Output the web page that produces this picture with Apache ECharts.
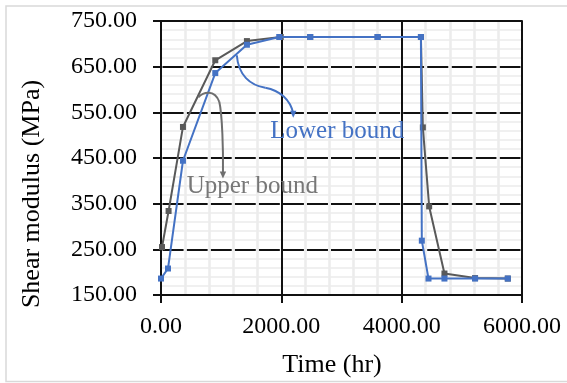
<!DOCTYPE html>
<html>
<head>
<meta charset="utf-8">
<script src="https://cdn.jsdelivr.net/npm/echarts@6/dist/echarts.min.js"></script>
<style>
  html, body { margin: 0; padding: 0; background: #ffffff; }
  #chart { width: 567px; height: 383px; }
</style>
</head>
<body>
<div id="chart"></div>
<script>
// Time (hr) and shear modulus (MPa) for the two bounding curves
const upperTime = [17, 126, 365, 902, 1428, 1990, 2480, 3600, 4320, 4352, 4457, 4711, 5220, 5764];
const upperModulus = [255, 334, 518, 664, 706, 715, 715, 715, 715, 517, 344, 197, 187, 186];
const lowerTime = [0, 116, 365, 902, 1428, 1965, 2480, 3600, 4320, 4335, 4446, 4711, 5220, 5764];
const lowerModulus = [186, 208, 444, 636, 698, 715, 715, 715, 715, 269, 186, 186, 186, 186];

const seriesNames = ['Upper bound', 'Lower bound'];
const axisTitles = { x: 'Time (hr)', y: 'Shear modulus (MPa)' };

// Callout curves in data units: start, then cubic segments (c1, c2, end)
const lowerCallout = [[1260, 675], [1285, 631], [1484, 609], [1733, 604], [1982, 598], [2148, 577], [2198, 548]];
const lowerCalloutTip = [2198, 538];
const lowerLabelAt = [2930, 509];
const upperCallout = [[620, 583], [703, 594], [886, 601], [969, 573], [1019, 544], [1035, 467], [1030, 419]];
const upperCalloutTip = [1030, 405];
const upperLabelAt = [1517, 388];

const BLUE = '#4472C4';
const GREY = '#595959';
const CALLOUT_GREY = '#6e6e6e';
const INK = '#111111';
const SERIF = '"Liberation Serif", "Times New Roman", serif';

const toPairs = (xs, ys) => xs.map((x, i) => [x, ys[i]]);

const chart = echarts.init(document.getElementById('chart'), null, { renderer: 'canvas' });

const pxPerMinor = 361 / 15; // width of one 400 hr minor cell

chart.setOption({
  animation: false,
  backgroundColor: '#ffffff',
  grid: { left: 161, right: 45, top: 21, bottom: 88 },
  xAxis: [{
    type: 'value',
    min: 0, max: 6000, interval: 2000,
    axisLine: { show: true, lineStyle: { color: INK, width: 2 } },
    axisTick: { show: true, length: 8, lineStyle: { color: INK, width: 2 } },
    axisLabel: { margin: 20, color: '#000', fontFamily: SERIF, fontSize: 24, formatter: v => v.toFixed(2) },
    splitLine: { show: true, lineStyle: { color: INK, width: 2 } },
    minorTick: { show: false, splitNumber: 5 },
    minorSplitLine: { show: true, lineStyle: { color: '#ececec', width: 2.5 } }
  }, {
    type: 'value', position: 'top',
    min: 0, max: 6000,
    axisLine: { show: true, onZero: false, lineStyle: { color: INK, width: 2 } },
    axisTick: { show: false }, axisLabel: { show: false }, splitLine: { show: false }
  }],
  yAxis: {
    type: 'value',
    min: 150, max: 750, interval: 100,
    axisLine: { show: true, lineStyle: { color: INK, width: 2 } },
    axisTick: { show: true, length: 8, lineStyle: { color: INK, width: 2 } },
    axisLabel: { margin: 24, color: '#000', fontFamily: SERIF, fontSize: 24, formatter: v => v.toFixed(2) },
    splitLine: {
      show: true, showMinLine: false, showMaxLine: false,
      lineStyle: { color: INK, width: 2, type: [pxPerMinor - 3, 3], dashOffset: pxPerMinor - 1.5 }
    },
    minorTick: { show: false, splitNumber: 5 },
    minorSplitLine: { show: true, lineStyle: { color: '#f0f0f0', width: 2 } }
  },
  series: [{
    name: seriesNames[0], type: 'line',
    data: toPairs(upperTime, upperModulus),
    symbol: 'rect', symbolSize: 6,
    itemStyle: { color: GREY },
    lineStyle: { color: GREY, width: 2 },
    z: 3
  }, {
    name: seriesNames[1], type: 'line',
    data: toPairs(lowerTime, lowerModulus),
    symbol: 'rect', symbolSize: 6,
    itemStyle: { color: BLUE },
    lineStyle: { color: BLUE, width: 2 },
    z: 4
  }]
});

const px = p => chart.convertToPixel({ gridIndex: 0 }, p);

// One bezierCurve element per cubic segment of a callout
function calloutCurves(points, color) {
  const pts = points.map(px);
  const out = [];
  for (let i = 1; i + 2 < pts.length; i += 3) {
    const s = pts[i - 1], c1 = pts[i], c2 = pts[i + 1], e = pts[i + 2];
    out.push({
      type: 'bezierCurve', z: 20,
      shape: { x1: s[0], y1: s[1], cpx1: c1[0], cpy1: c1[1], cpx2: c2[0], cpy2: c2[1], x2: e[0], y2: e[1] },
      style: { fill: null, stroke: color, lineWidth: 2 }
    });
  }
  return out;
}

function arrowHead(from, tip, color) {
  const a = px(from), b = px(tip);
  const dx = b[0] - a[0], dy = b[1] - a[1];
  const len = Math.hypot(dx, dy) || 1;
  const ux = dx / len, uy = dy / len;
  const L = 7, W = 3.2;
  const bx = b[0] - ux * L, by = b[1] - uy * L;
  return {
    type: 'polygon', z: 20,
    shape: { points: [b, [bx - uy * W, by + ux * W], [bx + uy * W, by - ux * W]] },
    style: { fill: color }
  };
}

function label(text, at, color) {
  const p = px(at);
  return {
    type: 'text', z: 20, x: p[0], y: p[1],
    style: { text, fill: color, font: '25px ' + SERIF, align: 'center', verticalAlign: 'middle' }
  };
}

chart.setOption({
  graphic: [
    {
      type: 'rect', z: 30, silent: true,
      shape: { x: 6, y: 6, width: 600, height: 375.5 },
      style: { fill: null, stroke: '#d9d9d9', lineWidth: 1.5 }
    },
    {
      type: 'text', z: 20, x: 32, y: 194, rotation: Math.PI / 2,
      style: { text: axisTitles.y, fill: '#000', font: '26px ' + SERIF, align: 'center', verticalAlign: 'middle' }
    },
    {
      type: 'text', z: 20, x: 332, y: 365,
      style: { text: axisTitles.x, fill: '#000', font: '26px ' + SERIF, align: 'center', verticalAlign: 'middle' }
    },
    ...calloutCurves(lowerCallout, BLUE),
    arrowHead(lowerCallout[lowerCallout.length - 1], lowerCalloutTip, BLUE),
    ...calloutCurves(upperCallout, CALLOUT_GREY),
    arrowHead(upperCallout[upperCallout.length - 1], upperCalloutTip, CALLOUT_GREY),
    label(seriesNames[1], lowerLabelAt, BLUE),
    label(seriesNames[0], upperLabelAt, '#777777')
  ]
});
</script>
</body>
</html>
